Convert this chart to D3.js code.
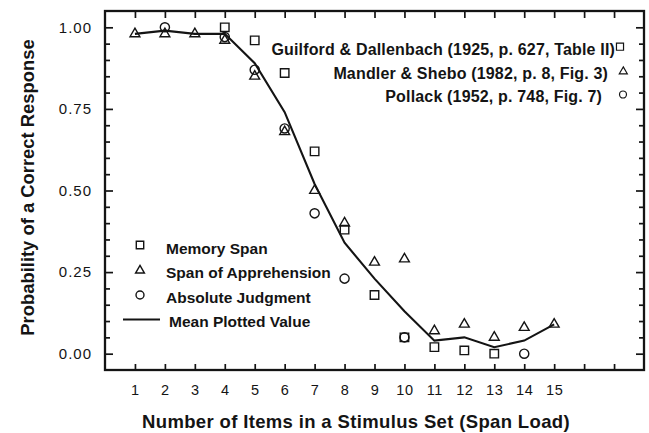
<!DOCTYPE html>
<html><head><meta charset="utf-8">
<script src="https://cdn.jsdelivr.net/npm/d3@7"></script>
<style>
html,body{margin:0;padding:0;background:#fff;}
svg{display:block;font-family:"Liberation Sans",Arial,Helvetica,sans-serif;}
</style></head>
<body>
<svg id="chart" width="649" height="433"></svg>
<script>
// ---- data ----
const spanLoads = [1,2,3,4,5,6,7,8,9,10,11,12,13,14,15];
const memorySpanX = [4,5,6,7,8,9,10,11,12,13];
const memorySpanY = [1.00,0.96,0.86,0.62,0.38,0.18,0.05,0.02,0.01,0.00];
const apprehensionX = [1,2,3,4,5,6,7,8,9,10,11,12,13,14,15];
const apprehensionY = [0.98,0.98,0.98,0.96,0.85,0.68,0.50,0.40,0.28,0.29,0.07,0.09,0.05,0.08,0.09];
const absoluteX = [2,4,5,6,7,8,10,14];
const absoluteY = [1.00,0.97,0.87,0.69,0.43,0.23,0.05,0.00];
const meanY = [0.98,0.99,0.98,0.98,0.89,0.74,0.52,0.34,0.23,0.13,0.04,0.05,0.02,0.04,0.09];
const xTickValues = [1,2,3,4,5,6,7,8,9,10,11,12,13,14,15,16,17];
const xTickLabels = [1,2,3,4,5,6,7,8,9,10,11,12,13,14,15];
const yMajor = [0,0.25,0.5,0.75,1.0];
const yMinor = [0.05,0.1,0.15,0.2,0.3,0.35,0.4,0.45,0.55,0.6,0.65,0.7,0.8,0.85,0.9,0.95];
const legendLabels = ["Memory Span","Span of Apprehension","Absolute Judgment","Mean Plotted Value"];
const sourceLabels = ["Guilford & Dallenbach (1925, p. 627, Table II)","Mandler & Shebo (1982, p. 8, Fig. 3)","Pollack (1952, p. 748, Fig. 7)"];

// ---- layout ----
const L=105, R=644, T=11, B=370;
const INK="#141414";
const svg = d3.select("#chart");
const x = d3.scaleLinear().domain([0,18]).range([L,R]);
const y = d3.scaleLinear().domain([-0.05,1.05]).range([B,T]);

function styleAxis(g){
  g.select(".domain").remove();
  g.selectAll("line").attr("stroke",INK).attr("stroke-width",1.7);
}
// inward ticks
svg.append("g").attr("transform",`translate(${L},0)`).call(d3.axisRight(y).tickValues(yMinor).tickSize(5).tickFormat("")).call(styleAxis);
svg.append("g").attr("transform",`translate(${L},0)`).call(d3.axisRight(y).tickValues(yMajor).tickSize(8).tickFormat("")).call(styleAxis);
svg.append("g").attr("transform",`translate(${R},0)`).call(d3.axisLeft(y).tickValues(yMinor).tickSize(5).tickFormat("")).call(styleAxis);
svg.append("g").attr("transform",`translate(${R},0)`).call(d3.axisLeft(y).tickValues(yMajor).tickSize(8).tickFormat("")).call(styleAxis);
svg.append("g").attr("transform",`translate(0,${B})`).call(d3.axisTop(x).tickValues(xTickValues).tickSize(6).tickFormat("")).call(styleAxis);
svg.append("g").attr("transform",`translate(0,${T})`).call(d3.axisBottom(x).tickValues(xTickValues).tickSize(7).tickFormat("")).call(styleAxis);

// tick labels
const yLab = svg.append("g").attr("transform",`translate(${L},0)`)
  .call(d3.axisLeft(y).tickValues(yMajor).tickSize(0).tickPadding(13).tickFormat(d3.format(".2f")));
yLab.select(".domain").remove();
yLab.selectAll("text").attr("font-size",15).attr("letter-spacing","1px").attr("font-family","Liberation Sans, Arial, sans-serif").attr("fill",INK);
const xLab = svg.append("g").attr("transform",`translate(0,${B})`)
  .call(d3.axisBottom(x).tickValues(xTickLabels).tickSize(0).tickPadding(14.5).tickFormat(d3.format("d")));
xLab.select(".domain").remove();
xLab.selectAll("text").attr("font-size",14.5).attr("letter-spacing","0.6px").attr("font-family","Liberation Sans, Arial, sans-serif").attr("fill",INK);

// frame
svg.append("rect").attr("x",L).attr("y",T).attr("width",R-L).attr("height",B-T)
  .attr("fill","none").attr("stroke",INK).attr("stroke-width",2.3);

// axis titles
svg.append("text").attr("x",356).attr("y",428).attr("text-anchor","middle")
  .attr("font-size",18.5).attr("letter-spacing","0.35px").attr("font-weight","bold").attr("fill",INK)
  .text("Number of Items in a Stimulus Set (Span Load)");
svg.append("text").attr("transform","translate(33.5,187.5) rotate(-90)").attr("text-anchor","middle")
  .attr("font-size",18.4).attr("font-weight","bold").attr("fill",INK)
  .text("Probability of a Correct Response");

// mean line
const line = d3.line().x((d,i)=>x(spanLoads[i])).y(d=>y(d));
svg.append("path").datum(meanY).attr("d",line).attr("fill","none").attr("stroke",INK).attr("stroke-width",2.1);

// markers
const symSq = d3.symbol().type(d3.symbolSquare).size(72);
const symTri = d3.symbol().type(d3.symbolTriangle).size(42);
const symCir = d3.symbol().type(d3.symbolCircle).size(66);
function drawPts(xs, ys, sym){
  svg.append("g").selectAll("path").data(ys).join("path")
    .attr("transform",(d,i)=>`translate(${x(xs[i])},${y(d)})`)
    .attr("d",sym).attr("fill","none").attr("stroke",INK).attr("stroke-width",1.4);
}
drawPts(memorySpanX, memorySpanY, symSq);
drawPts(apprehensionX, apprehensionY, symTri);
drawPts(absoluteX, absoluteY, symCir);

// bottom-left legend
const legSyms = [d3.symbol().type(d3.symbolSquare).size(55), d3.symbol().type(d3.symbolTriangle).size(34), d3.symbol().type(d3.symbolCircle).size(50)];
const legSymY = [245,270.5,295];
const legTextY = [248.3,273,298,321.7];
const lg = svg.append("g");
legSyms.forEach((s,i)=>{
  lg.append("path").attr("transform",`translate(140,${legSymY[i]})`).attr("d",s)
    .attr("fill","none").attr("stroke",INK).attr("stroke-width",1.4);
});
lg.append("line").attr("x1",123).attr("x2",160).attr("y1",319.5).attr("y2",319.5).attr("stroke",INK).attr("stroke-width",2.1);
legendLabels.forEach((t,i)=>{
  lg.append("text").attr("x",i===3?169:166).attr("y",legTextY[i]).attr("dy","0.35em")
    .attr("font-size",15.5).attr("font-weight","bold").attr("fill",INK).text(t);
});

// top-right source legend
const srcSyms = [d3.symbol().type(d3.symbolSquare).size(50), d3.symbol().type(d3.symbolTriangle).size(28), d3.symbol().type(d3.symbolCircle).size(38)];
const srcTextY = [49.3,73.3,96.7];
const srcTextX = [615,608,602];
const srcSymX = [620,623.3,623];
const srcSymY = [46.7,71.5,94.5];
sourceLabels.forEach((t,i)=>{
  svg.append("text").attr("x",srcTextX[i]).attr("y",srcTextY[i]).attr("dy","0.35em").attr("text-anchor","end")
    .attr("font-size",16).attr("letter-spacing","0.17px").attr("font-weight","bold").attr("fill",INK).text(t);
  svg.append("path").attr("transform",`translate(${srcSymX[i]},${srcSymY[i]})`).attr("d",srcSyms[i])
    .attr("fill","none").attr("stroke",INK).attr("stroke-width",1.2);
});
</script>
</body></html>
